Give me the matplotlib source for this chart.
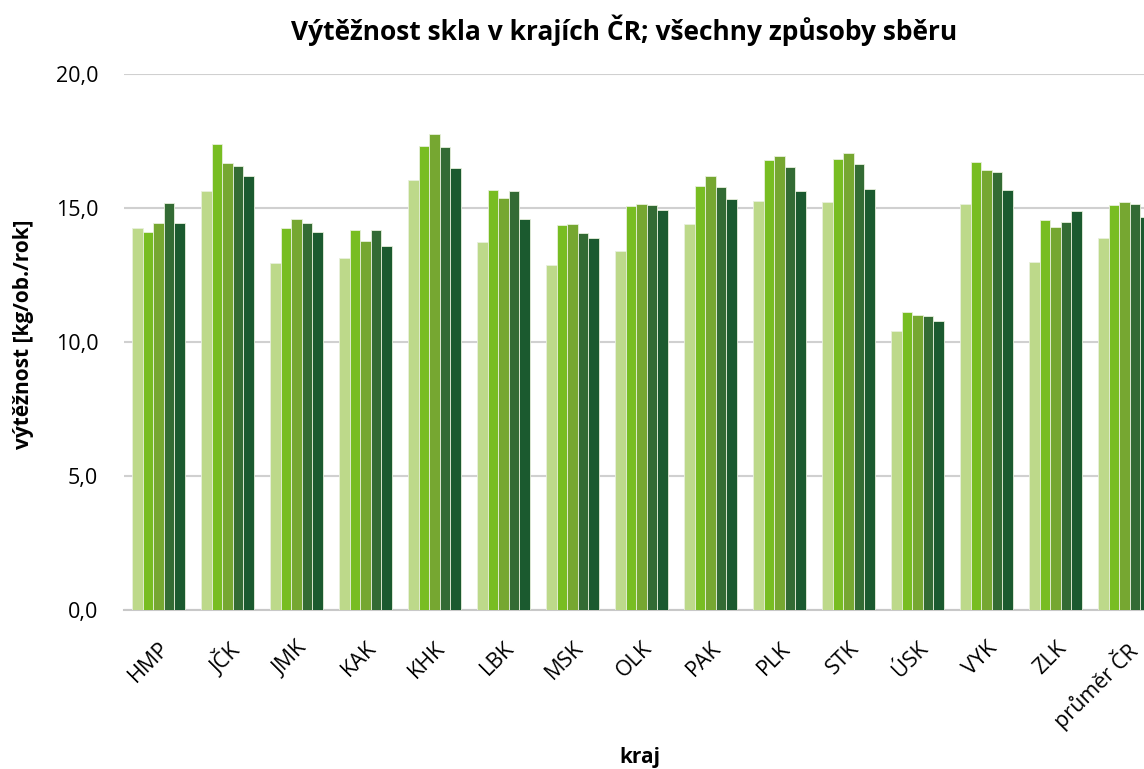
import numpy as np
import matplotlib.pyplot as plt

# Data
kraje = ['HMP', 'JČK', 'JMK', 'KAK', 'KHK', 'LBK', 'MSK', 'OLK', 'PAK', 'PLK',
         'STK', 'ÚSK', 'VYK', 'ZLK', 'průměr ČR']
serie_1 = [14.24, 15.65, 12.96, 13.12, 16.04, 13.73, 12.88, 13.38, 14.40, 15.27, 15.21, 10.40, 15.15, 12.99, 13.88]
serie_2 = [14.09, 17.38, 14.25, 14.17, 17.30, 15.67, 14.38, 15.07, 15.81, 16.79, 16.82, 11.13, 16.70, 14.55, 15.12]
serie_3 = [14.43, 16.68, 14.59, 13.76, 17.76, 15.37, 14.41, 15.15, 16.21, 16.94, 17.04, 11.01, 16.41, 14.30, 15.21]
serie_4 = [15.19, 16.58, 14.45, 14.17, 17.26, 15.65, 14.06, 15.12, 15.78, 16.54, 16.63, 10.97, 16.34, 14.48, 15.15]
serie_5 = [14.43, 16.21, 14.12, 13.58, 16.48, 14.59, 13.88, 14.93, 15.32, 15.65, 15.70, 10.77, 15.67, 14.90, 14.65]

serie = [serie_1, serie_2, serie_3, serie_4, serie_5]
barvy = ['#BDD98A', '#78BD22', '#76A731', '#336B34', '#1B5A2F']

plt.rcParams['font.family'] = ['Open Sans', 'DejaVu Sans']

fig = plt.figure(figsize=(11.44, 7.69), dpi=100)
# plot area runs past the right edge, like in the original (last group is clipped)
ax = fig.add_axes([124 / 1144, 1 - 610 / 769, 1035 / 1144, 536 / 769])

x = np.arange(len(kraje))
sirka = 0.152
for i, (hodnoty, barva) in enumerate(zip(serie, barvy)):
    ax.bar(x + (i - 2) * sirka, hodnoty, width=sirka, color=barva,
           edgecolor='#e8f0dc', linewidth=0.6, zorder=3)

ax.set_xlim(-0.5, len(kraje) - 0.5)
ax.set_ylim(0, 20)
ax.set_yticks([0, 5, 10, 15, 20])
ax.set_yticklabels(['0,0', '5,0', '10,0', '15,0', '20,0'], fontsize=15.5)
ax.yaxis.grid(True, color='#d0d0d0', linewidth=1.5, zorder=0)
ax.tick_params(axis='y', length=0, pad=18.5)
ax.tick_params(axis='x', length=0, pad=20)

ax.set_xticks(x)
ax.set_xticklabels(kraje, rotation=45, ha='right', rotation_mode='anchor', fontsize=15.5)

for s in ['top', 'right', 'left']:
    ax.spines[s].set_visible(False)
ax.spines['bottom'].set_color('#c8c8c8')
ax.spines['bottom'].set_linewidth(1.5)

fig.text(624 / 1144, 1 - 30 / 769, 'Výtěžnost skla v krajích ČR; všechny způsoby sběru',
         ha='center', va='center', fontsize=19, fontweight='bold')
fig.text(640 / 1144, 1 - 757 / 769, 'kraj', ha='center', va='center',
         fontsize=15, fontweight='bold')
fig.text(24 / 1144, 1 - 334 / 769, 'výtěžnost [kg/ob./rok]', ha='center', va='center',
         rotation=90, fontsize=15, fontweight='bold')

fig.savefig('out.png', dpi=100)
